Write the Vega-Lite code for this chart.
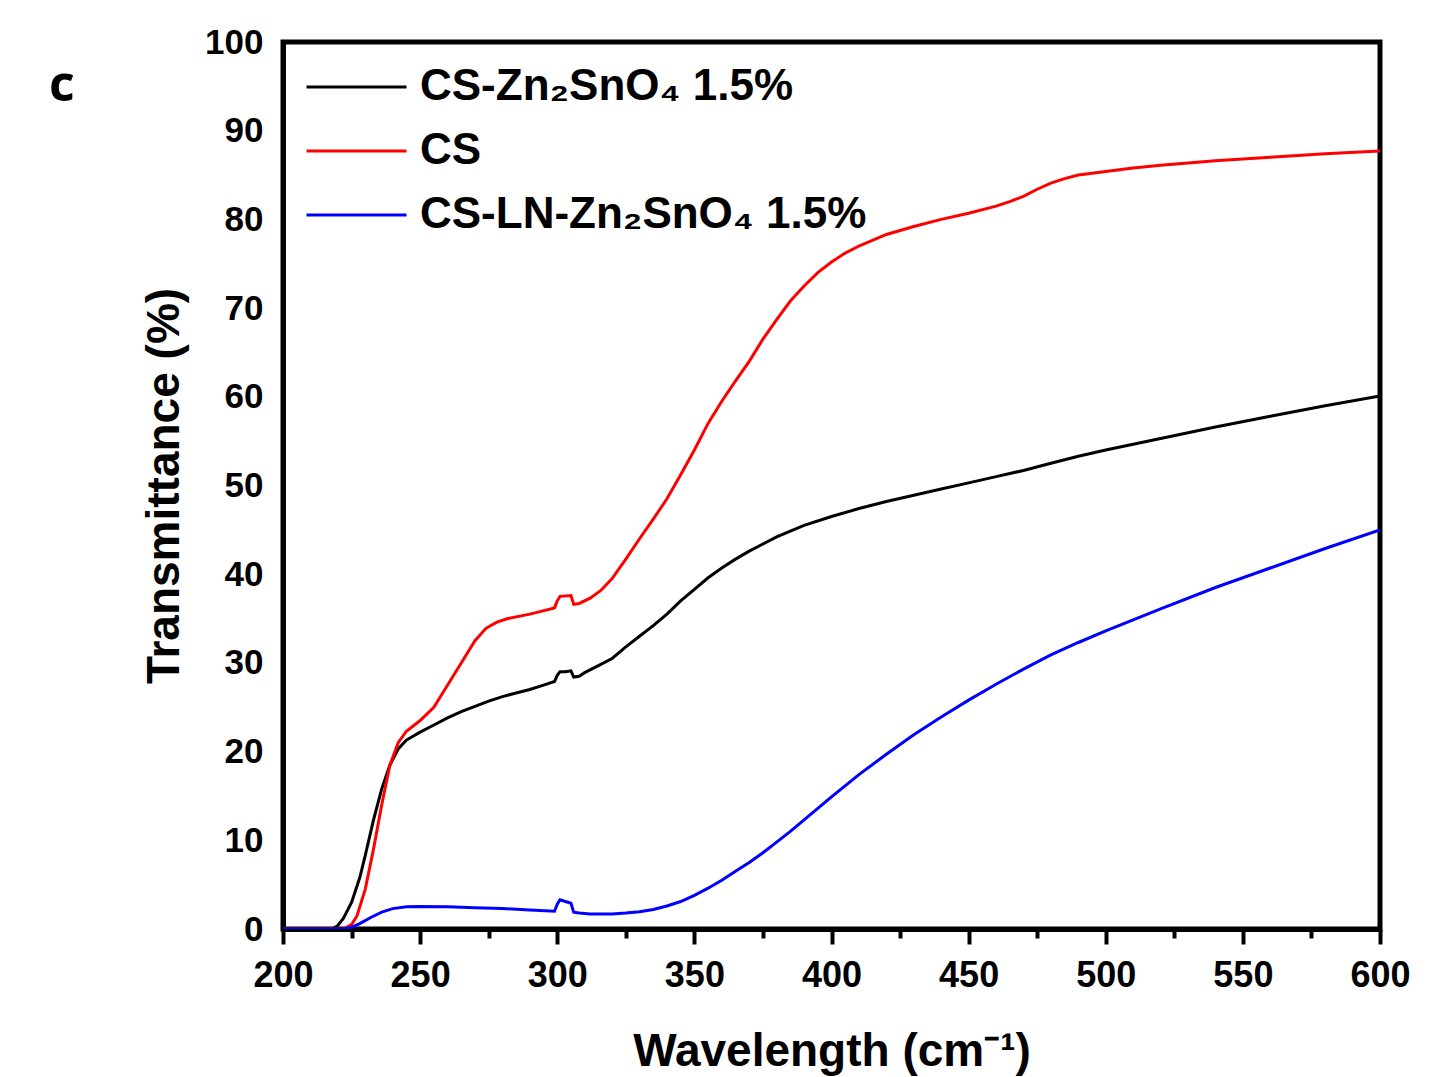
{
  "$schema": "https://vega.github.io/schema/vega-lite/v6.json",
  "width": 1097,
  "height": 887,
  "autosize": {"type": "none"},
  "padding": {"left": 283, "top": 42, "right": 69, "bottom": 148},
  "background": "white",
  "config": {
    "view": {"stroke": "black", "strokeWidth": 5},
    "font": "Liberation Sans"
  },
  "title": {"text": "c", "anchor": "start", "orient": "top", "frame": "group", "font": "Open Sans", "fontSize": 50, "fontWeight": "bold", "color": "black", "dx": -234, "dy": 86, "offset": 0},
  "datasets": {
    "curves": [
      {"s": "CS-Zn₂SnO₄ 1.5%", "x": 200, "y": 0}, {"s": "CS-Zn₂SnO₄ 1.5%", "x": 210, "y": 0}, {"s": "CS-Zn₂SnO₄ 1.5%", "x": 218, "y": 0},
      {"s": "CS-Zn₂SnO₄ 1.5%", "x": 220, "y": 0.4}, {"s": "CS-Zn₂SnO₄ 1.5%", "x": 222, "y": 1.2}, {"s": "CS-Zn₂SnO₄ 1.5%", "x": 225, "y": 3},
      {"s": "CS-Zn₂SnO₄ 1.5%", "x": 228, "y": 5.8}, {"s": "CS-Zn₂SnO₄ 1.5%", "x": 230, "y": 8.3}, {"s": "CS-Zn₂SnO₄ 1.5%", "x": 233, "y": 12.3},
      {"s": "CS-Zn₂SnO₄ 1.5%", "x": 236, "y": 15.8}, {"s": "CS-Zn₂SnO₄ 1.5%", "x": 239, "y": 18.5}, {"s": "CS-Zn₂SnO₄ 1.5%", "x": 242, "y": 20.3},
      {"s": "CS-Zn₂SnO₄ 1.5%", "x": 245, "y": 21.3}, {"s": "CS-Zn₂SnO₄ 1.5%", "x": 250, "y": 22.2}, {"s": "CS-Zn₂SnO₄ 1.5%", "x": 255, "y": 23},
      {"s": "CS-Zn₂SnO₄ 1.5%", "x": 260, "y": 23.8}, {"s": "CS-Zn₂SnO₄ 1.5%", "x": 265, "y": 24.5}, {"s": "CS-Zn₂SnO₄ 1.5%", "x": 270, "y": 25.1},
      {"s": "CS-Zn₂SnO₄ 1.5%", "x": 275, "y": 25.7}, {"s": "CS-Zn₂SnO₄ 1.5%", "x": 280, "y": 26.2}, {"s": "CS-Zn₂SnO₄ 1.5%", "x": 285, "y": 26.6},
      {"s": "CS-Zn₂SnO₄ 1.5%", "x": 290, "y": 27}, {"s": "CS-Zn₂SnO₄ 1.5%", "x": 295, "y": 27.5}, {"s": "CS-Zn₂SnO₄ 1.5%", "x": 299, "y": 27.9},
      {"s": "CS-Zn₂SnO₄ 1.5%", "x": 300, "y": 28.6}, {"s": "CS-Zn₂SnO₄ 1.5%", "x": 301, "y": 29}, {"s": "CS-Zn₂SnO₄ 1.5%", "x": 303, "y": 29},
      {"s": "CS-Zn₂SnO₄ 1.5%", "x": 305, "y": 29.1}, {"s": "CS-Zn₂SnO₄ 1.5%", "x": 306, "y": 28.4}, {"s": "CS-Zn₂SnO₄ 1.5%", "x": 308, "y": 28.5},
      {"s": "CS-Zn₂SnO₄ 1.5%", "x": 310, "y": 28.9}, {"s": "CS-Zn₂SnO₄ 1.5%", "x": 315, "y": 29.7}, {"s": "CS-Zn₂SnO₄ 1.5%", "x": 320, "y": 30.5},
      {"s": "CS-Zn₂SnO₄ 1.5%", "x": 325, "y": 31.8}, {"s": "CS-Zn₂SnO₄ 1.5%", "x": 330, "y": 33}, {"s": "CS-Zn₂SnO₄ 1.5%", "x": 335, "y": 34.2},
      {"s": "CS-Zn₂SnO₄ 1.5%", "x": 340, "y": 35.5}, {"s": "CS-Zn₂SnO₄ 1.5%", "x": 345, "y": 37}, {"s": "CS-Zn₂SnO₄ 1.5%", "x": 350, "y": 38.3},
      {"s": "CS-Zn₂SnO₄ 1.5%", "x": 355, "y": 39.6}, {"s": "CS-Zn₂SnO₄ 1.5%", "x": 360, "y": 40.7}, {"s": "CS-Zn₂SnO₄ 1.5%", "x": 365, "y": 41.7},
      {"s": "CS-Zn₂SnO₄ 1.5%", "x": 370, "y": 42.6}, {"s": "CS-Zn₂SnO₄ 1.5%", "x": 375, "y": 43.4}, {"s": "CS-Zn₂SnO₄ 1.5%", "x": 380, "y": 44.2},
      {"s": "CS-Zn₂SnO₄ 1.5%", "x": 390, "y": 45.5}, {"s": "CS-Zn₂SnO₄ 1.5%", "x": 400, "y": 46.5}, {"s": "CS-Zn₂SnO₄ 1.5%", "x": 410, "y": 47.4},
      {"s": "CS-Zn₂SnO₄ 1.5%", "x": 420, "y": 48.2}, {"s": "CS-Zn₂SnO₄ 1.5%", "x": 430, "y": 48.9}, {"s": "CS-Zn₂SnO₄ 1.5%", "x": 440, "y": 49.6},
      {"s": "CS-Zn₂SnO₄ 1.5%", "x": 450, "y": 50.3}, {"s": "CS-Zn₂SnO₄ 1.5%", "x": 460, "y": 51}, {"s": "CS-Zn₂SnO₄ 1.5%", "x": 470, "y": 51.7},
      {"s": "CS-Zn₂SnO₄ 1.5%", "x": 480, "y": 52.5}, {"s": "CS-Zn₂SnO₄ 1.5%", "x": 490, "y": 53.3}, {"s": "CS-Zn₂SnO₄ 1.5%", "x": 500, "y": 54},
      {"s": "CS-Zn₂SnO₄ 1.5%", "x": 520, "y": 55.3}, {"s": "CS-Zn₂SnO₄ 1.5%", "x": 540, "y": 56.6}, {"s": "CS-Zn₂SnO₄ 1.5%", "x": 560, "y": 57.8},
      {"s": "CS-Zn₂SnO₄ 1.5%", "x": 580, "y": 59}, {"s": "CS-Zn₂SnO₄ 1.5%", "x": 600, "y": 60.1},

      {"s": "CS", "x": 200, "y": 0}, {"s": "CS", "x": 215, "y": 0}, {"s": "CS", "x": 222, "y": 0}, {"s": "CS", "x": 225, "y": 0.5},
      {"s": "CS", "x": 227, "y": 1.5}, {"s": "CS", "x": 230, "y": 4.5}, {"s": "CS", "x": 233, "y": 9}, {"s": "CS", "x": 236, "y": 14},
      {"s": "CS", "x": 239, "y": 18.5}, {"s": "CS", "x": 242, "y": 21}, {"s": "CS", "x": 245, "y": 22.3}, {"s": "CS", "x": 250, "y": 23.5},
      {"s": "CS", "x": 255, "y": 25}, {"s": "CS", "x": 258, "y": 26.5}, {"s": "CS", "x": 262, "y": 28.5}, {"s": "CS", "x": 266, "y": 30.5},
      {"s": "CS", "x": 270, "y": 32.5}, {"s": "CS", "x": 274, "y": 33.9}, {"s": "CS", "x": 278, "y": 34.6}, {"s": "CS", "x": 282, "y": 35},
      {"s": "CS", "x": 290, "y": 35.5}, {"s": "CS", "x": 299, "y": 36.2}, {"s": "CS", "x": 300, "y": 37}, {"s": "CS", "x": 301, "y": 37.5},
      {"s": "CS", "x": 305, "y": 37.6}, {"s": "CS", "x": 306, "y": 36.6}, {"s": "CS", "x": 308, "y": 36.7}, {"s": "CS", "x": 312, "y": 37.3},
      {"s": "CS", "x": 316, "y": 38.2}, {"s": "CS", "x": 320, "y": 39.5}, {"s": "CS", "x": 325, "y": 41.7}, {"s": "CS", "x": 330, "y": 44},
      {"s": "CS", "x": 335, "y": 46.2}, {"s": "CS", "x": 340, "y": 48.5}, {"s": "CS", "x": 345, "y": 51.2}, {"s": "CS", "x": 350, "y": 54},
      {"s": "CS", "x": 355, "y": 57}, {"s": "CS", "x": 360, "y": 59.5}, {"s": "CS", "x": 365, "y": 61.8}, {"s": "CS", "x": 370, "y": 64},
      {"s": "CS", "x": 375, "y": 66.5}, {"s": "CS", "x": 380, "y": 68.7}, {"s": "CS", "x": 385, "y": 70.8}, {"s": "CS", "x": 390, "y": 72.5},
      {"s": "CS", "x": 395, "y": 74}, {"s": "CS", "x": 400, "y": 75.2}, {"s": "CS", "x": 405, "y": 76.2}, {"s": "CS", "x": 410, "y": 77},
      {"s": "CS", "x": 420, "y": 78.3}, {"s": "CS", "x": 430, "y": 79.2}, {"s": "CS", "x": 440, "y": 80}, {"s": "CS", "x": 450, "y": 80.7},
      {"s": "CS", "x": 460, "y": 81.5}, {"s": "CS", "x": 465, "y": 82}, {"s": "CS", "x": 470, "y": 82.6}, {"s": "CS", "x": 475, "y": 83.4},
      {"s": "CS", "x": 480, "y": 84.1}, {"s": "CS", "x": 485, "y": 84.6}, {"s": "CS", "x": 490, "y": 85}, {"s": "CS", "x": 500, "y": 85.4},
      {"s": "CS", "x": 510, "y": 85.8}, {"s": "CS", "x": 520, "y": 86.1}, {"s": "CS", "x": 540, "y": 86.6}, {"s": "CS", "x": 560, "y": 87},
      {"s": "CS", "x": 580, "y": 87.4}, {"s": "CS", "x": 600, "y": 87.7},

      {"s": "CS-LN-Zn₂SnO₄ 1.5%", "x": 200, "y": 0}, {"s": "CS-LN-Zn₂SnO₄ 1.5%", "x": 222, "y": 0}, {"s": "CS-LN-Zn₂SnO₄ 1.5%", "x": 225, "y": 0.2},
      {"s": "CS-LN-Zn₂SnO₄ 1.5%", "x": 228, "y": 0.6}, {"s": "CS-LN-Zn₂SnO₄ 1.5%", "x": 232, "y": 1.3}, {"s": "CS-LN-Zn₂SnO₄ 1.5%", "x": 236, "y": 1.9},
      {"s": "CS-LN-Zn₂SnO₄ 1.5%", "x": 240, "y": 2.3}, {"s": "CS-LN-Zn₂SnO₄ 1.5%", "x": 245, "y": 2.5}, {"s": "CS-LN-Zn₂SnO₄ 1.5%", "x": 250, "y": 2.55},
      {"s": "CS-LN-Zn₂SnO₄ 1.5%", "x": 260, "y": 2.5}, {"s": "CS-LN-Zn₂SnO₄ 1.5%", "x": 270, "y": 2.4}, {"s": "CS-LN-Zn₂SnO₄ 1.5%", "x": 280, "y": 2.3},
      {"s": "CS-LN-Zn₂SnO₄ 1.5%", "x": 290, "y": 2.15}, {"s": "CS-LN-Zn₂SnO₄ 1.5%", "x": 299, "y": 2}, {"s": "CS-LN-Zn₂SnO₄ 1.5%", "x": 300, "y": 2.8},
      {"s": "CS-LN-Zn₂SnO₄ 1.5%", "x": 301, "y": 3.3}, {"s": "CS-LN-Zn₂SnO₄ 1.5%", "x": 303, "y": 3.1}, {"s": "CS-LN-Zn₂SnO₄ 1.5%", "x": 305, "y": 2.9},
      {"s": "CS-LN-Zn₂SnO₄ 1.5%", "x": 306, "y": 1.9}, {"s": "CS-LN-Zn₂SnO₄ 1.5%", "x": 308, "y": 1.8}, {"s": "CS-LN-Zn₂SnO₄ 1.5%", "x": 312, "y": 1.7},
      {"s": "CS-LN-Zn₂SnO₄ 1.5%", "x": 320, "y": 1.7}, {"s": "CS-LN-Zn₂SnO₄ 1.5%", "x": 325, "y": 1.8}, {"s": "CS-LN-Zn₂SnO₄ 1.5%", "x": 330, "y": 1.95},
      {"s": "CS-LN-Zn₂SnO₄ 1.5%", "x": 335, "y": 2.2}, {"s": "CS-LN-Zn₂SnO₄ 1.5%", "x": 340, "y": 2.6}, {"s": "CS-LN-Zn₂SnO₄ 1.5%", "x": 345, "y": 3.1},
      {"s": "CS-LN-Zn₂SnO₄ 1.5%", "x": 350, "y": 3.8}, {"s": "CS-LN-Zn₂SnO₄ 1.5%", "x": 355, "y": 4.6}, {"s": "CS-LN-Zn₂SnO₄ 1.5%", "x": 360, "y": 5.5},
      {"s": "CS-LN-Zn₂SnO₄ 1.5%", "x": 365, "y": 6.5}, {"s": "CS-LN-Zn₂SnO₄ 1.5%", "x": 370, "y": 7.5}, {"s": "CS-LN-Zn₂SnO₄ 1.5%", "x": 375, "y": 8.6},
      {"s": "CS-LN-Zn₂SnO₄ 1.5%", "x": 380, "y": 9.8}, {"s": "CS-LN-Zn₂SnO₄ 1.5%", "x": 385, "y": 11}, {"s": "CS-LN-Zn₂SnO₄ 1.5%", "x": 390, "y": 12.3},
      {"s": "CS-LN-Zn₂SnO₄ 1.5%", "x": 395, "y": 13.6}, {"s": "CS-LN-Zn₂SnO₄ 1.5%", "x": 400, "y": 14.9}, {"s": "CS-LN-Zn₂SnO₄ 1.5%", "x": 410, "y": 17.4},
      {"s": "CS-LN-Zn₂SnO₄ 1.5%", "x": 420, "y": 19.7}, {"s": "CS-LN-Zn₂SnO₄ 1.5%", "x": 430, "y": 21.9}, {"s": "CS-LN-Zn₂SnO₄ 1.5%", "x": 440, "y": 23.9},
      {"s": "CS-LN-Zn₂SnO₄ 1.5%", "x": 450, "y": 25.8}, {"s": "CS-LN-Zn₂SnO₄ 1.5%", "x": 460, "y": 27.6}, {"s": "CS-LN-Zn₂SnO₄ 1.5%", "x": 470, "y": 29.3},
      {"s": "CS-LN-Zn₂SnO₄ 1.5%", "x": 480, "y": 30.9}, {"s": "CS-LN-Zn₂SnO₄ 1.5%", "x": 490, "y": 32.3}, {"s": "CS-LN-Zn₂SnO₄ 1.5%", "x": 500, "y": 33.6},
      {"s": "CS-LN-Zn₂SnO₄ 1.5%", "x": 520, "y": 36.1}, {"s": "CS-LN-Zn₂SnO₄ 1.5%", "x": 540, "y": 38.5}, {"s": "CS-LN-Zn₂SnO₄ 1.5%", "x": 560, "y": 40.7},
      {"s": "CS-LN-Zn₂SnO₄ 1.5%", "x": 580, "y": 42.9}, {"s": "CS-LN-Zn₂SnO₄ 1.5%", "x": 600, "y": 45}
    ]
  },
  "data": {"name": "curves"},
  "layer": [
    {
      "mark": {"type": "line", "strokeWidth": 3, "clip": true},
      "encoding": {
        "x": {
          "field": "x", "type": "quantitative",
          "scale": {"domain": [200, 600], "nice": false, "zero": false},
          "axis": {
            "orient": "bottom",
            "title": "Wavelength (cm⁻¹)",
            "titleFont": "Liberation Sans", "titleFontSize": 46, "titleFontWeight": "bold", "titleColor": "black", "titlePadding": 36,
            "values": [200, 250, 300, 350, 400, 450, 500, 550, 600],
            "labelFont": "Liberation Sans", "labelFontSize": 36, "labelFontWeight": "bold", "labelColor": "black", "labelPadding": 14,
            "labelFlush": false, "labelOverlap": false,
            "tickSize": 15, "tickWidth": 4, "tickColor": "black",
            "domainColor": "black", "domainWidth": 5, "grid": false
          }
        },
        "y": {
          "field": "y", "type": "quantitative",
          "scale": {"domain": [0, 100], "nice": false},
          "axis": {
            "title": "Transmittance (%)",
            "titleFont": "Liberation Sans", "titleFontSize": 46, "titleFontWeight": "bold", "titleColor": "black", "titlePadding": 16,
            "values": [0, 10, 20, 30, 40, 50, 60, 70, 80, 90, 100],
            "labelFont": "Liberation Sans", "labelFontSize": 35, "labelFontWeight": "bold", "labelColor": "black", "labelPadding": 20,
            "labelFlush": false, "labelOverlap": false,
            "ticks": false,
            "domainColor": "black", "domainWidth": 5, "grid": false
          }
        },
        "color": {
          "field": "s", "type": "nominal",
          "scale": {"domain": ["CS-Zn₂SnO₄ 1.5%", "CS", "CS-LN-Zn₂SnO₄ 1.5%"], "range": ["#000000", "#ff0000", "#0000ff"]},
          "legend": {
            "title": null, "orient": "none", "legendX": 22, "legendY": 14,
            "symbolType": "stroke", "symbolSize": 10000, "symbolStrokeWidth": 3,
            "labelFont": "Liberation Sans", "labelFontSize": 44, "labelFontWeight": "bold", "labelColor": "black",
            "labelOffset": 12, "rowPadding": 2, "clipHeight": 62, "labelLimit": 800
          }
        }
      }
    },
    {
      "mark": {"type": "rule", "opacity": 0},
      "encoding": {
        "x": {
          "datum": 225, "type": "quantitative",
          "axis": {
            "orient": "bottom", "title": null, "labels": false, "domain": false, "grid": false,
            "values": [225, 275, 325, 375, 425, 475, 525, 575],
            "tickSize": 9, "tickWidth": 4, "tickColor": "black"
          }
        }
      }
    }
  ],
  "resolve": {"axis": {"x": "independent"}}
}
